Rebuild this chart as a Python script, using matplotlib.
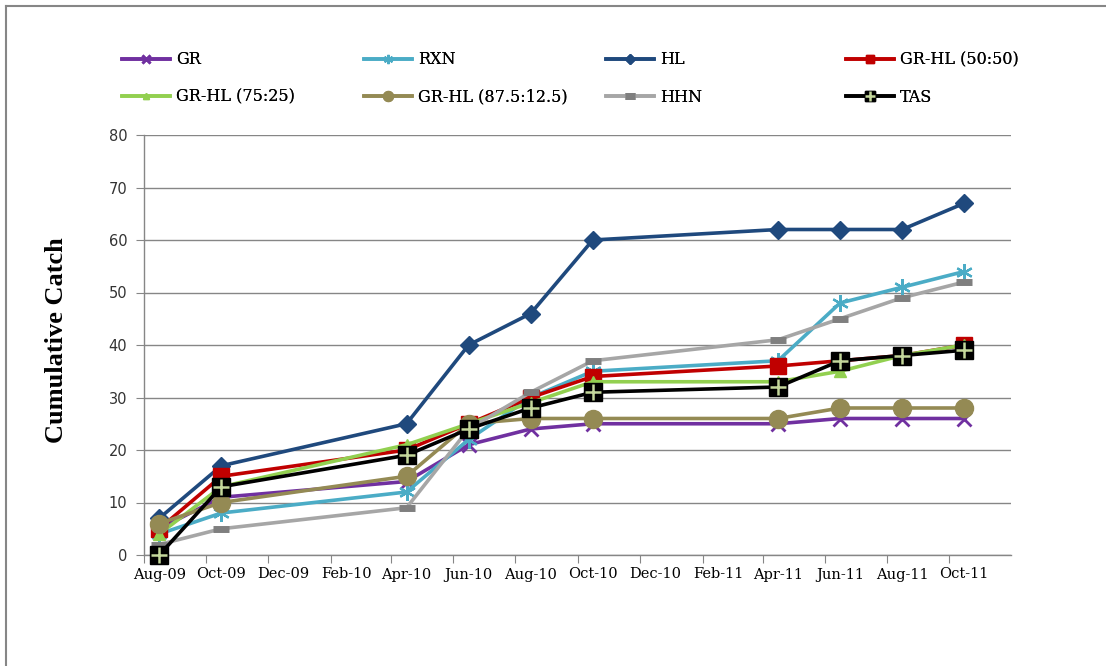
import matplotlib
matplotlib.use("Agg")
import matplotlib.pyplot as plt
import matplotlib.dates as mdates
import pandas as pd
from matplotlib.lines import Line2D
from matplotlib.legend_handler import HandlerTuple

# ---------------- data ----------------
dates = ["2009-08-16", "2009-10-16", "2010-04-16", "2010-06-16", "2010-08-16",
         "2010-10-16", "2011-04-16", "2011-06-16", "2011-08-16", "2011-10-16"]
gr = [5, 11, 14, 21, 24, 25, 25, 26, 26, 26]
rxn = [4, 8, 12, 22, 30, 35, 37, 48, 51, 54]
hl = [7, 17, 25, 40, 46, 60, 62, 62, 62, 67]
gr_hl_50 = [5, 15, 20, 25, 30, 34, 36, 37, 38, 40]
gr_hl_75 = [4, 13, 21, 25, 29, 33, 33, 35, 38, 40]
gr_hl_875 = [6, 10, 15, 25, 26, 26, 26, 28, 28, 28]
hhn = [2, 5, 9, 24, 31, 37, 41, 45, 49, 52]
tas = [0, 13, 19, 24, 28, 31, 32, 37, 38, 39]
series_names = ["GR", "RXN", "HL", "GR-HL (50:50)", "GR-HL (75:25)",
                "GR-HL (87.5:12.5)", "HHN", "TAS"]
y_label = "Cumulative Catch"

x = pd.to_datetime(dates)

W, H = 1106, 666
fig = plt.figure(figsize=(W / 100, H / 100), dpi=100)
ax = fig.add_axes([144 / W, 1 - 555 / H, (1011 - 144) / W, (555 - 135) / H])

SERIF = "DejaVu Serif"
lw = 2.6
styles = [
    dict(color="#7030A0", marker="x", ms=10, mew=2.0),
    dict(color="#4BACC6", marker=(6, 2, 0), ms=12, mew=1.6),
    dict(color="#1F497D", marker="D", ms=9, mec="#1F497D"),
    dict(color="#C00000", marker="s", ms=11, mec="#C00000"),
    dict(color="#92D050", marker="^", ms=9, mec="#92D050"),
    dict(color="#948A54", marker="o", ms=13, mec="#948A54"),
    dict(color="#A6A6A6", marker="_", ms=12, mew=5, mec="#7F7F7F"),
    dict(color="#000000", marker="s", ms=13, mec="#000000"),
]
all_vals = [gr, rxn, hl, gr_hl_50, gr_hl_75, gr_hl_875, hhn, tas]

handles = []
for i, (vals, st, name) in enumerate(zip(all_vals, styles, series_names)):
    ln, = ax.plot(x, vals, lw=lw, zorder=3 + i, label=name, clip_on=False, **st)
    handles.append(ln)

# TAS plus overlay
plus, = ax.plot(x, tas, ls="none", marker="+", ms=12, mew=1.8,
                color="#C4D79B", zorder=12, clip_on=False)

# ---------------- axes styling ----------------
ax.set_ylim(0, 80)
ax.set_yticks(range(0, 81, 10))
ax.set_xlim(pd.Timestamp("2009-08-01"), pd.Timestamp("2011-11-30 23:00"))
ax.xaxis.set_major_locator(mdates.MonthLocator(bymonth=[2, 4, 6, 8, 10, 12]))
ax.xaxis.set_major_formatter(plt.NullFormatter())
ax.xaxis.set_minor_locator(mdates.MonthLocator(bymonth=[2, 4, 6, 8, 10, 12], bymonthday=16))
ax.xaxis.set_minor_formatter(mdates.DateFormatter("%b-%y"))
ax.tick_params(axis="x", which="minor", length=0, pad=9)
ax.tick_params(axis="x", which="major", length=6, color="#868686", direction="out")
ax.tick_params(axis="y", length=6, color="#868686", direction="out", pad=6)

for lab in ax.get_xticklabels(minor=True):
    lab.set_fontfamily(SERIF)
    lab.set_fontsize(10.5)
for lab in ax.get_yticklabels():
    lab.set_fontfamily("DejaVu Sans")
    lab.set_fontsize(10.5)
    lab.set_color("#333333")

ax.grid(axis="y", color="#868686", lw=1)
ax.set_axisbelow(True)
for s in ["top", "right"]:
    ax.spines[s].set_visible(False)
for s in ["left", "bottom"]:
    ax.spines[s].set_color("#868686")
    ax.spines[s].set_linewidth(1)

fig.text(57 / W, 1 - 340 / H, y_label, rotation=90, ha="center", va="center",
         fontfamily="Liberation Serif", fontweight="bold", fontsize=19)

# ---------------- legend (row-major, fixed columns) ----------------
col_x = [122, 364, 606, 846]
row_y = [60, 97]
leg_handles = handles[:7] + [(handles[7], plus)]
for i, (hnd, name) in enumerate(zip(leg_handles, series_names)):
    r, c = divmod(i, 4)
    lg = fig.legend([hnd], [name], loc="center left",
                    bbox_to_anchor=(col_x[c] / W, 1 - row_y[r] / H),
                    frameon=False, borderpad=0, borderaxespad=0,
                    prop=dict(family=SERIF, size=11.5),
                    markerscale=0.55, handlelength=3.0, handletextpad=0.4,
                    handler_map={tuple: HandlerTuple(ndivide=1, pad=0)})
    fig.add_artist(lg)

# outer chart border
fig.add_artist(Line2D([6 / W, 6 / W], [0, 1 - 6 / H], transform=fig.transFigure,
                      color="#868686", lw=1.5))
fig.add_artist(Line2D([6 / W, 1], [1 - 6 / H, 1 - 6 / H], transform=fig.transFigure,
                      color="#868686", lw=1.5))

fig.savefig("out.png", dpi=100, facecolor="white")
